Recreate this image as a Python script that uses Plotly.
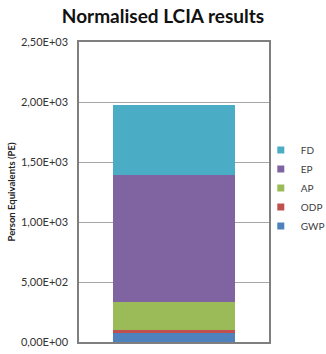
import plotly.graph_objects as go

categories = [""]
series_names = ["GWP", "ODP", "AP", "EP", "FD"]
series_values = [[77], [19], [241], [1056], [580]]
series_colors = ["#4F81BD", "#C0504D", "#9BBB59", "#8064A2", "#4BACC6"]
tick_vals = [0, 500, 1000, 1500, 2000, 2500]
tick_text = ["0,00E+00", "5,00E+02", "1,00E+03", "1,50E+03", "2,00E+03", "2,50E+03"]

fig = go.Figure()
for name, vals, col in zip(series_names, series_values, series_colors):
    fig.add_trace(go.Bar(x=categories, y=vals, name=name, marker_color=col,
                         marker_line_width=0, showlegend=False))
    fig.add_trace(go.Scatter(x=[None], y=[None], mode="markers", name=name,
                             marker=dict(symbol="square", size=7, color=col)))

fig.update_layout(
    width=326, height=354,
    margin=dict(l=79, r=57, t=42, b=12, autoexpand=False),
    paper_bgcolor="white", plot_bgcolor="white",
    barmode="stack", bargap=0.354,
    font=dict(family="Lato", size=10, color="#404040"),
    title=dict(text="<b>Normalised LCIA results</b>", x=0.5, xanchor="center",
               y=1 - 16 / 354, yanchor="middle",
               font=dict(family="Lato", size=19, color="#111111")),
    legend=dict(traceorder="reversed", xref="container", yref="container",
                x=0.80, xanchor="left", y=0.617, yanchor="top",
                font=dict(size=10, color="#404040"), itemwidth=30,
                bgcolor="rgba(0,0,0,0)", tracegroupgap=0),
    xaxis=dict(showticklabels=False, showgrid=False, showline=True, mirror=True,
               linecolor="#7f7f7f", linewidth=1.5, ticks=""),
    yaxis=dict(range=[0, 2500], tickvals=tick_vals, ticktext=tick_text,
               tickfont=dict(size=11, color="#333333"),
               showgrid=True, gridcolor="#a6a6a6", gridwidth=0.8,
               showline=True, mirror=True, linecolor="#7f7f7f", linewidth=1.5,
               ticks="", ticklabelstandoff=7, zeroline=False,
               title=dict(text="<b>Person Equivalents (PE)</b>", standoff=4,
                          font=dict(size=9.5, color="#222222"))),
)

fig.write_html("out.html")
